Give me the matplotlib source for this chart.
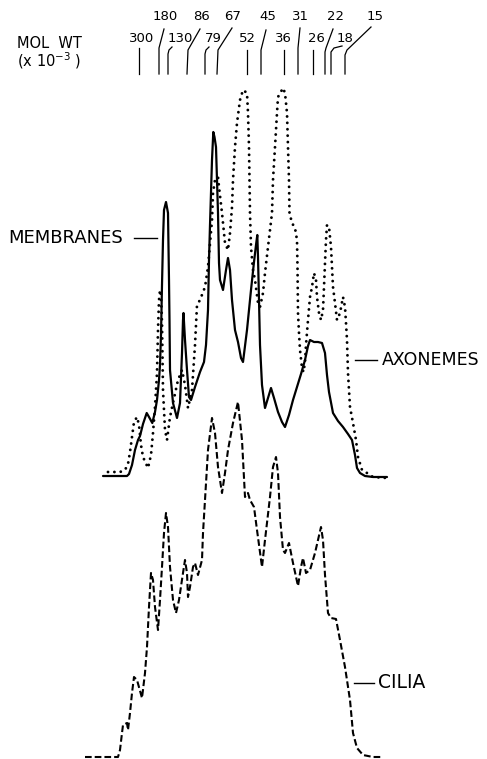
import matplotlib.pyplot as plt

# densitometer scans of the gel: position along gel (x) and absorbance height above baseline
mem_x = [103, 127, 129, 132, 135, 138, 140, 143, 146.7, 149, 152.3, 155, 157, 159, 160, 161, 162, 163, 164, 166,
         168, 168.5, 169, 169.5, 170, 173, 177, 180, 182, 183, 183.5, 185, 187, 189, 191, 195, 200, 204, 206, 208,
         209, 210, 212, 213.3, 214.5, 216, 217, 218, 219, 220, 223, 226, 228, 230, 232, 235, 238, 241, 243, 247,
         251, 254, 256, 257.3, 258, 259, 260, 262, 265, 268, 271, 274, 278, 282, 285, 289, 293, 297, 301, 305,
         308, 310, 314, 318, 322, 325, 327, 329, 333, 338, 343, 348, 352, 355, 357, 360, 365, 373, 387]
mem_a = [1, 1, 3, 12, 27, 37, 41, 53, 64, 60, 54, 65, 77, 97, 112, 142, 192, 237, 267, 275,
         264, 230, 197, 157, 107, 74, 59, 74, 124, 157, 164, 137, 107, 80, 77, 90, 105, 115, 132, 167,
         217, 252, 317, 345, 340, 330, 297, 264, 214, 197, 187, 207, 219, 207, 177, 147, 135, 119, 115, 147,
         187, 215, 232, 242, 220, 177, 132, 92, 69, 79, 89, 79, 65, 55, 50, 62, 77, 90, 103, 117,
         131, 137, 135, 135, 134, 124, 102, 85, 64, 56, 50, 43, 37, 22, 9, 4, 1, 0, 0]

axo_x = [108, 115, 120, 125, 128, 130, 132, 134, 137, 139, 141, 143, 148, 151, 153, 155, 157, 158, 159, 160,
         161, 162, 163, 165, 167, 170, 173, 178, 182, 185, 188, 192, 195, 197, 200, 205, 208, 212, 213, 215,
         218, 219, 222, 225, 228, 230, 232, 233, 235, 237, 240, 243, 247, 248, 249, 249.5, 250, 251, 253, 255,
         258, 260, 263, 265, 268, 272, 273, 275, 277, 278, 283, 285, 287, 288, 289, 289.5, 292, 295, 297, 297.5,
         298, 299, 300, 302, 303.5, 305, 306, 308, 310, 312, 314, 316, 317, 319, 321, 323, 324, 325, 326, 327,
         329, 331, 332, 333, 335, 337, 340, 343, 345, 346, 347, 348, 350, 353, 356, 358, 362, 367, 373, 387]
axo_a = [5, 5, 5, 7, 13, 25, 40, 55, 60, 52, 32, 20, 9, 22, 44, 70, 104, 147, 177, 187,
         182, 154, 87, 47, 37, 60, 74, 97, 107, 92, 69, 87, 132, 172, 177, 190, 210, 257, 284, 297,
         300, 290, 264, 234, 227, 244, 270, 297, 330, 354, 377, 387, 384, 364, 330, 297, 264, 230, 207, 197,
         174, 170, 184, 204, 230, 264, 297, 330, 364, 380, 389, 384, 364, 330, 297, 264, 254, 249, 237, 210,
         164, 144, 127, 109, 105, 115, 132, 157, 180, 190, 204, 197, 180, 164, 157, 167, 190, 214, 237, 252,
         250, 230, 210, 190, 174, 157, 164, 180, 170, 154, 137, 104, 70, 54, 37, 20, 7, 4, 0, -1]

cil_x = [85, 118, 120, 122, 123, 127, 128, 130, 132, 134, 137, 142, 145, 147, 149, 151, 153, 155, 158, 160,
         162, 164, 166, 168, 170, 173, 176, 179, 183, 185, 187, 188, 190, 193, 195, 198, 202, 203, 205, 208,
         212, 215, 218, 222, 225, 228, 233, 238, 242, 245, 248, 250, 254, 257, 262, 265, 270, 273, 276, 278,
         280, 283, 285, 289, 293, 298, 301, 303, 306, 310, 315, 318, 321, 323, 325, 328, 331, 336, 340, 345,
         350, 353, 357, 363, 373, 383]
cil_a = [0, 0, 7, 24, 32, 34, 27, 44, 64, 80, 77, 59, 84, 110, 150, 184, 177, 150, 127, 157,
         190, 224, 244, 230, 190, 157, 144, 157, 184, 197, 184, 160, 170, 190, 194, 182, 197, 224, 257, 307,
         339, 324, 290, 264, 284, 307, 334, 355, 317, 260, 264, 257, 250, 227, 190, 217, 260, 290, 300, 284,
         240, 207, 204, 214, 194, 171, 190, 199, 184, 187, 204, 217, 230, 217, 182, 144, 139, 138, 117, 90,
         57, 24, 9, 2, 0, 0]

# molecular weight standards (x 10^-3) and their positions along the gel
mw_labels = ['300', '180', '130', '86', '79', '67', '52', '45', '36', '31', '26', '22', '18', '15']
mw_pos = [139, 159, 168, 187, 205, 217, 247, 261, 284, 298, 313, 325, 331, 345]

plt.rcParams['lines.scale_dashes'] = False
plt.rcParams['font.family'] = ['DejaVu Sans']

fig = plt.figure(figsize=(4.87, 7.59), dpi=100)
ax = fig.add_axes([0, 0, 1, 1])
ax.set_xlim(0, 487)
ax.set_ylim(759, 0)
ax.axis('off')

base_top = 477
base_bot = 757

ax.plot(mem_x, [base_top - a for a in mem_a], color='black', lw=1.6,
        solid_joinstyle='round', solid_capstyle='round')
ax.plot(axo_x, [base_top - a for a in axo_a], color='black', lw=2.1,
        linestyle=(0, (0.01, 4.6)), dash_capstyle='round')
ax.plot(cil_x, [base_bot - a for a in cil_a], color='black', lw=1.5,
        linestyle=(0, (4.8, 2.2)), dash_capstyle='butt')

# marker labels: label spot and the bent leader down to each tick
leaders = {
    '300': ((142, 39), [(139, 48)]),
    '180': ((165, 16), [(164, 29), (159, 48)]),
    '130': ((180, 39), [(172, 47), (169, 50), (168, 54)]),
    '86': ((202, 16), [(200, 29), (188, 50)]),
    '79': ((213, 39), [(209, 47), (206, 50), (205, 54)]),
    '67': ((233, 16), [(232, 28), (218, 50)]),
    '52': ((247, 39), [(247, 50)]),
    '45': ((268, 16), [(266, 30), (261, 50)]),
    '36': ((283, 39), [(284, 50)]),
    '31': ((300, 16), [(300, 28), (298, 48)]),
    '26': ((316, 39), [(313, 50)]),
    '22': ((335, 16), [(333, 29), (326, 48), (325, 52)]),
    '18': ((345, 39), [(342, 46), (334, 48), (331, 52)]),
    '15': ((375, 16), [(371, 27), (347, 50), (345, 55)]),
}
for lab, x in zip(mw_labels, mw_pos):
    (lx, ly), path = leaders[lab]
    xs = [p[0] for p in path] + [x]
    ys = [p[1] for p in path] + [74]
    ax.plot(xs, ys, color='black', lw=0.9)
    ax.text(lx, ly, lab, fontsize=9.5, ha='center', va='center')

ax.text(17, 43, 'MOL  WT', fontsize=10.5, ha='left', va='center')
ax.text(17, 61, r'(x 10$^{-3}$ )', fontsize=10.5, ha='left', va='center')

ax.plot([134, 157], [238, 238], color='black', lw=1.0)
ax.text(123, 238, 'MEMBRANES', fontsize=13, ha='right', va='center')
ax.plot([355, 377], [360, 360], color='black', lw=1.0)
ax.text(382, 360, 'AXONEMES', fontsize=12.5, ha='left', va='center')
ax.plot([354, 374], [683, 683], color='black', lw=1.0)
ax.text(378, 683, 'CILIA', fontsize=13.5, ha='left', va='center')

fig.savefig('out.png', dpi=100, facecolor='white')
